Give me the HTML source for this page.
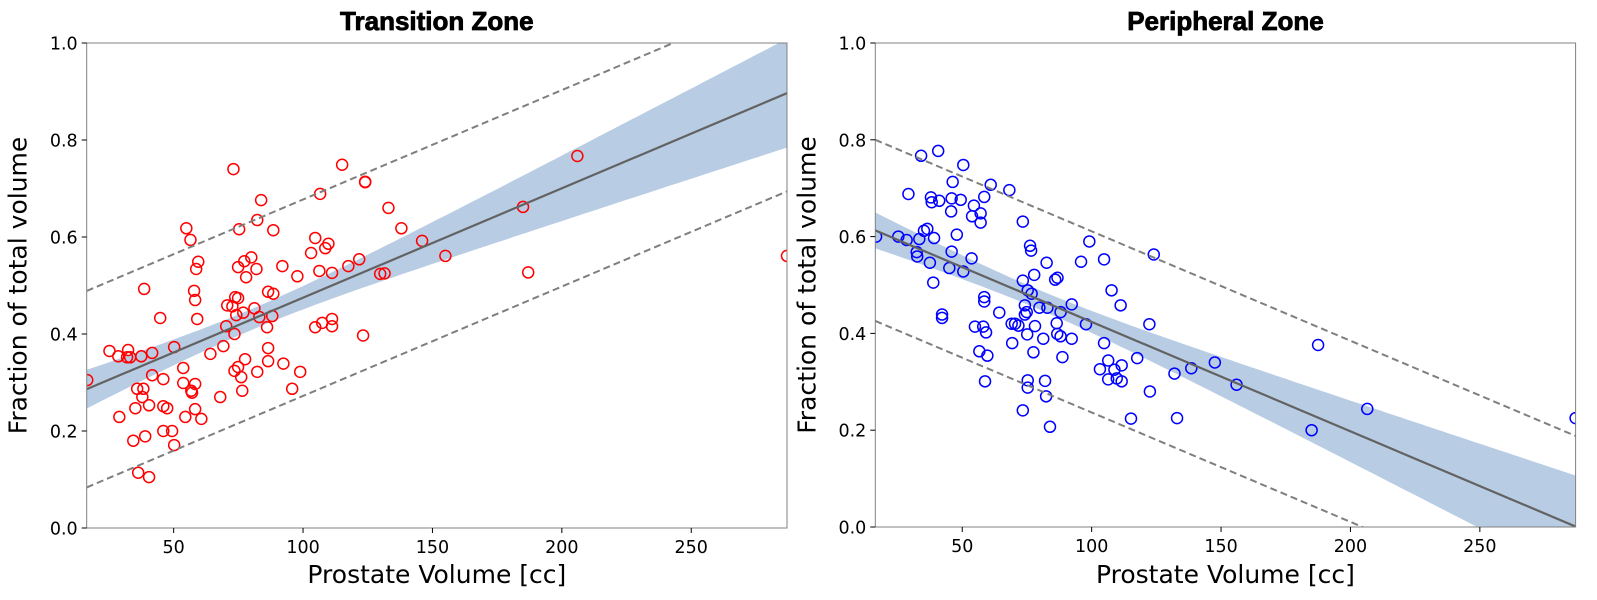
<!DOCTYPE html>
<html><head><meta charset="utf-8">
<style>
html,body{margin:0;padding:0;background:#fff;width:1597px;height:600px;overflow:hidden;}
svg{display:block;}
text{font-family:"DejaVu Sans","Liberation Sans",sans-serif;fill:#000;}
.title{font-family:"Liberation Sans",sans-serif;font-weight:bold;font-size:26px;}
</style></head>
<body>
<svg id="fig" width="1597" height="600" viewBox="0 0 1597 600" xmlns="http://www.w3.org/2000/svg"></svg>
<script>
// ---------- Data ----------
const xTicks = [50, 100, 150, 200, 250];
const yTicks = [0.0, 0.2, 0.4, 0.6, 0.8, 1.0];
const tzVolume = [16.6,25.2,28.6,32.4,32.0,33.2,37.5,41.7,50.2,38.6,44.8,54.9,56.5,59.5,58.7,57.9,58.3,59.1,73.1,75.3,83.8,82.3,88.5,115.1,106.6,124.0,104.7,109.8,108.6,103.1,77.3,80.0,74.9,82.0,78.0,92.0,97.8,106.3,111.2,121.7,117.5,129.8,70.7,73.8,74.9,72.7,74.2,76.9,81.2,83.1,86.5,88.5,88.1,86.1,70.3,73.5,69.2,64.2,104.7,107.4,111.2,111.2,123.2,86.5,86.5,92.4,98.9,82.3,77.6,74.9,73.5,76.1,76.5,68.0,95.8,53.7,53.7,58.3,56.8,57.1,58.3,60.7,54.5,41.7,46.0,35.9,38.3,37.9,40.5,35.2,46.0,47.5,46.0,49.4,50.2,39.0,34.4,29.0,36.3,40.5,138,133,131.5,146,155,185,187,206,287,124];
const tzFraction = [.305,.365,.354,.367,.352,.352,.354,.361,.373,.493,.433,.618,.594,.549,.534,.489,.470,.431,.740,.616,.676,.635,.614,.749,.689,.713,.598,.586,.577,.567,.550,.558,.538,.534,.517,.540,.519,.530,.526,.554,.540,.524,.459,.476,.474,.457,.439,.444,.453,.435,.487,.483,.437,.414,.416,.400,.375,.359,.414,.423,.431,.416,.397,.371,.344,.339,.322,.322,.348,.332,.324,.311,.283,.270,.287,.330,.299,.297,.283,.279,.245,.225,.229,.315,.307,.287,.287,.270,.253,.247,.251,.247,.200,.200,.171,.189,.180,.229,.114,.105,.618,.660,.525,.592,.561,.662,.527,.767,.561,.714];
const pzVolume = [16.7,25.3,28.5,33.4,32.4,32.6,35.2,36.5,39.1,37.5,38.8,29.2,34.1,40.7,37.9,38.2,41.1,46.3,50.4,45.9,49.4,58.5,61.0,68.2,54.5,57.1,53.8,57.1,45.7,47.9,45.9,45.0,50.4,53.6,58.5,58.5,42.2,42.2,54.9,58.1,59.2,64.3,56.6,59.7,58.8,73.4,76.2,76.6,82.6,73.4,75.3,76.8,77.8,74.2,74.9,74.2,79.8,82.9,85.9,86.8,88.0,92.3,99.1,95.9,104.8,107.7,111.2,97.8,122.3,70.4,69.1,71.7,69.3,75.1,78.1,77.5,81.3,86.5,86.7,88.0,88.7,92.3,104.8,106.4,103.2,106.4,108.8,111.6,109.7,111.6,117.6,75.3,75.3,82.0,82.4,73.4,83.9,115.2,122.5,124,132,133,138.5,147.6,156,187.5,185,206.5,287];
const pzFraction = [.600,.600,.593,.595,.568,.559,.612,.616,.597,.546,.505,.688,.767,.777,.681,.671,.674,.713,.748,.679,.676,.682,.707,.696,.664,.648,.642,.629,.652,.604,.569,.535,.528,.555,.475,.466,.439,.432,.414,.414,.402,.443,.363,.354,.301,.631,.581,.571,.546,.509,.489,.482,.521,.458,.444,.439,.453,.453,.511,.515,.444,.460,.590,.548,.553,.489,.458,.419,.419,.420,.420,.416,.380,.398,.415,.361,.389,.421,.399,.394,.351,.389,.380,.344,.326,.305,.325,.334,.307,.301,.349,.303,.288,.302,.270,.241,.207,.224,.280,.563,.317,.225,.328,.340,.294,.376,.200,.244,.225];

// ---------- Drawing ----------
const NS = "http://www.w3.org/2000/svg";
const svg = document.getElementById('fig');
const X0 = 16.4, X1 = 287.0;
function mk(tag, attrs, parent){
  const e = document.createElementNS(NS, tag);
  for (const k in attrs) e.setAttribute(k, attrs[k]);
  (parent || svg).appendChild(e);
  return e;
}
function fit(xs, ys){
  const n = xs.length;
  let mx=0,my=0; for(let i=0;i<n;i++){mx+=xs[i];my+=ys[i];} mx/=n; my/=n;
  let sxx=0,sxy=0; for(let i=0;i<n;i++){sxx+=(xs[i]-mx)**2; sxy+=(xs[i]-mx)*(ys[i]-my);}
  const b = sxy/sxx, a = my - b*mx;
  let sse=0; for(let i=0;i<n;i++){sse+=(ys[i]-a-b*xs[i])**2;}
  const s = Math.sqrt(sse/(n-2));
  return {a,b,s,n,mx,sxx};
}
function panel(name, left, right, top, bottom, xs, ys, color, title){
  const g = mk('g', {});
  
  
  const sx = v => left + (v - X0) / (X1 - X0) * (right - left);
  const sy = v => bottom - v * (bottom - top);
  const clip = mk('clipPath', {id: name + '-clip'}, g);
  mk('rect', {x:left, y:top, width:right-left, height:bottom-top}, clip);
  const plot = mk('g', {'clip-path': 'url(#' + name + '-clip)'}, g);
  const f = fit(xs, ys);
  let up = [], lo = [];
  for (let k = 0; k <= 100; k++){
    const x = X0 + (X1 - X0) * k / 100;
    const yh = f.a + f.b * x;
    const se = f.s * Math.sqrt(1/f.n + (x - f.mx)**2 / f.sxx);
    up.push(sx(x).toFixed(1) + ',' + sy(yh + 1.9*se).toFixed(1));
    lo.unshift(sx(x).toFixed(1) + ',' + sy(yh - 1.9*se).toFixed(1));
  }
  const band = mk('polygon', {points: up.concat(lo).join(' '), fill:'#b8cce4', stroke:'none'}, plot);
  
  
  for (let i = 0; i < xs.length; i++){
    const c = mk('circle', {cx: sx(xs[i]), cy: sy(ys[i]), r: 5.5, fill:'none', stroke: color, 'stroke-width': 1.5}, plot);
    
    
  }
  const pi = 1.7 * f.s;
  for (const d of [pi, -pi]){
    const l = mk('line', {x1: sx(X0), y1: sy(f.a + f.b*X0 + d), x2: sx(X1), y2: sy(f.a + f.b*X1 + d), stroke:'#7f7f7f', 'stroke-width': 2, 'stroke-dasharray':'7,4'}, plot);
    
    
  }
  const rl = mk('line', {x1: sx(X0), y1: sy(f.a + f.b*X0), x2: sx(X1), y2: sy(f.a + f.b*X1), stroke:'#626262', 'stroke-width': 2.2}, plot);
  
  
  const fr = mk('rect', {x:left, y:top, width:right-left, height:bottom-top, fill:'none', stroke:'#808080', 'stroke-width':1}, g);
  
  
  for (const t of xTicks){
    mk('line', {x1: sx(t), y1: bottom, x2: sx(t), y2: bottom + 5, stroke:'#000', 'stroke-width':1}, g);
    const tx = mk('text', {x: sx(t), y: bottom + 25, 'font-size': 17.5, 'text-anchor':'middle'}, g);
    tx.textContent = String(t);
    
    
  }
  for (const t of yTicks){
    mk('line', {x1: left - 5, y1: sy(t), x2: left, y2: sy(t), stroke:'#000', 'stroke-width':1}, g);
    const ty = mk('text', {x: left - 9, y: sy(t) + 6.5, 'font-size': 17.5, 'text-anchor':'end'}, g);
    ty.textContent = t.toFixed(1);
    
    
  }
  const xl = mk('text', {x: (left + right)/2, y: 583, 'font-size': 25, 'text-anchor':'middle'}, g);
  xl.textContent = 'Prostate Volume [cc]';
  
  
  const yx = left - 60, yy = (top + bottom)/2;
  const yl = mk('text', {x: yx, y: yy, 'font-size': 25, 'text-anchor':'middle', transform: 'rotate(-90 ' + yx + ' ' + yy + ')'}, g);
  yl.textContent = 'Fraction of total volume';
  
  
  const tt = mk('text', {x: (left + right)/2, y: 30, 'text-anchor':'middle', 'class':'title', stroke:'#000', 'stroke-width':0.8}, g);
  tt.textContent = title;
  
  
}
panel('transition-zone', 86.7, 787, 43, 528, tzVolume, tzFraction, '#ff0000', 'Transition Zone');
panel('peripheral-zone', 875.3, 1575.6, 43, 527, pzVolume, pzFraction, '#0000ff', 'Peripheral Zone');
</script>
</body></html>
